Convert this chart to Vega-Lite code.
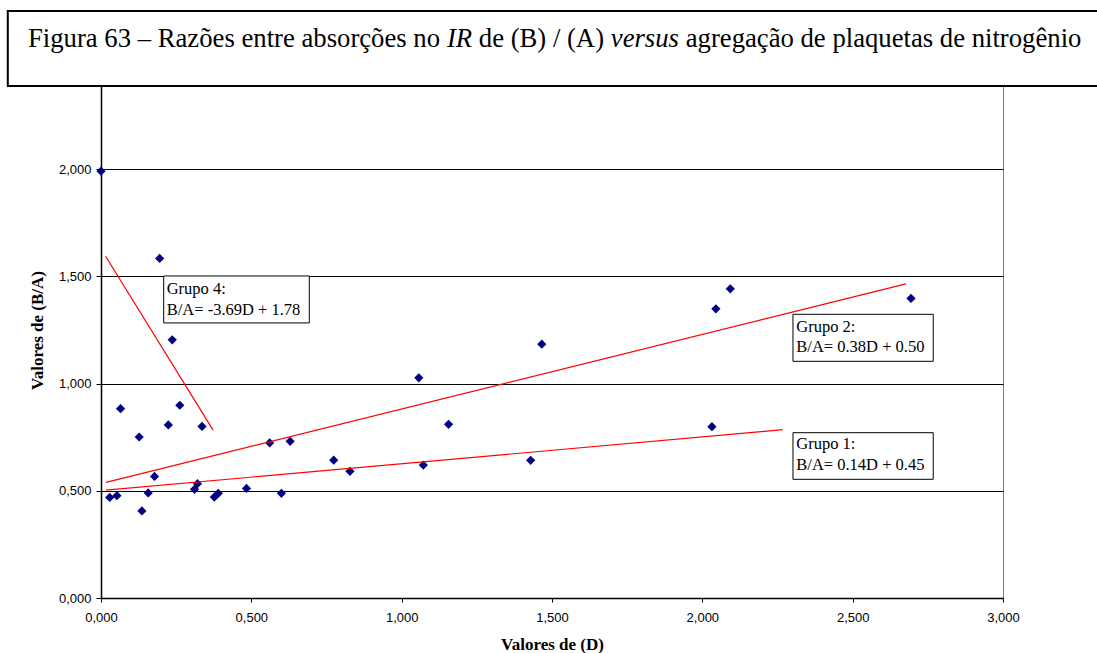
{
  "$schema": "https://vega.github.io/schema/vega-lite/v6.json",
  "autosize": {"type": "none"},
  "padding": {"left": 101, "top": 62, "right": 95, "bottom": 55},
  "width": 902,
  "height": 536,
  "background": "white",
  "config": {
    "view": {"stroke": "#808080", "strokeWidth": 1},
    "axis": {"zindex": 0}
  },
  "datasets": {
    "pts": [
      {"D": 0.000, "BA": 1.991},
      {"D": 0.029, "BA": 0.469},
      {"D": 0.053, "BA": 0.477},
      {"D": 0.065, "BA": 0.883},
      {"D": 0.127, "BA": 0.751},
      {"D": 0.136, "BA": 0.406},
      {"D": 0.157, "BA": 0.490},
      {"D": 0.178, "BA": 0.567},
      {"D": 0.195, "BA": 1.584},
      {"D": 0.224, "BA": 0.807},
      {"D": 0.237, "BA": 1.204},
      {"D": 0.262, "BA": 0.899},
      {"D": 0.311, "BA": 0.507},
      {"D": 0.321, "BA": 0.533},
      {"D": 0.336, "BA": 0.800},
      {"D": 0.377, "BA": 0.471},
      {"D": 0.390, "BA": 0.488},
      {"D": 0.484, "BA": 0.511},
      {"D": 0.561, "BA": 0.724},
      {"D": 0.600, "BA": 0.488},
      {"D": 0.629, "BA": 0.731},
      {"D": 0.774, "BA": 0.643},
      {"D": 0.828, "BA": 0.591},
      {"D": 1.057, "BA": 1.027},
      {"D": 1.072, "BA": 0.620},
      {"D": 1.156, "BA": 0.810},
      {"D": 1.429, "BA": 0.642},
      {"D": 1.466, "BA": 1.184},
      {"D": 2.032, "BA": 0.799},
      {"D": 2.045, "BA": 1.349},
      {"D": 2.093, "BA": 1.442},
      {"D": 2.694, "BA": 1.397}
    ],
    "trend": [
      {"grupo": "Grupo 4", "D1": 0.0153, "BA1": 1.594, "D2": 0.3728, "BA2": 0.783},
      {"grupo": "Grupo 2", "D1": 0.0166, "BA1": 0.539, "D2": 2.677, "BA2": 1.465},
      {"grupo": "Grupo 1", "D1": 0.0166, "BA1": 0.503, "D2": 2.267, "BA2": 0.785}
    ],
    "boxes": [
      {"grupo": "Grupo 4", "D1": 0.2085, "D2": 0.6928, "BA1": 1.502, "BA2": 1.283},
      {"grupo": "Grupo 2", "D1": 2.3015, "D2": 2.768, "BA1": 1.3232, "BA2": 1.104},
      {"grupo": "Grupo 1", "D1": 2.3015, "D2": 2.768, "BA1": 0.771, "BA2": 0.5536}
    ],
    "labels": [
      {"D": 0.2185, "BA": 1.4435, "texto": "Grupo 4:"},
      {"D": 0.2185, "BA": 1.3456, "texto": "B/A= -3.69D + 1.78"},
      {"D": 2.3125, "BA": 1.2626, "texto": "Grupo 2:"},
      {"D": 2.3125, "BA": 1.1693, "texto": "B/A= 0.38D + 0.50"},
      {"D": 2.3125, "BA": 0.7183, "texto": "Grupo 1:"},
      {"D": 2.3125, "BA": 0.619, "texto": "B/A= 0.14D + 0.45"}
    ],
    "titlebox": [
      {"D1": -0.310, "D2": 3.34, "BA1": 2.738, "BA2": 2.388}
    ],
    "titulo_normal": [
      {"D": -0.2428, "BA": 2.571, "texto": "Figura 63 – Razões entre absorções no"},
      {"D": 1.2565, "BA": 2.571, "texto": "de (B) / (A)"},
      {"D": 1.9447, "BA": 2.571, "texto": "agregação de plaquetas de nitrogênio"}
    ],
    "titulo_italico": [
      {"D": 1.1504, "BA": 2.571, "texto": "IR"},
      {"D": 1.6955, "BA": 2.571, "texto": "versus"}
    ]
  },
  "layer": [
    {
      "data": {"name": "pts"},
      "mark": {"type": "point", "shape": "diamond", "filled": true, "color": "#000080", "size": 85, "opacity": 1},
      "encoding": {
        "x": {
          "field": "D", "type": "quantitative",
          "scale": {"domain": [0, 3], "nice": false, "zero": false},
          "axis": {
            "values": [0, 0.5, 1, 1.5, 2, 2.5, 3],
            "labelExpr": "replace(format(datum.value, '.3f'), '.', ',')",
            "labelFlush": false,
            "grid": false,
            "domainColor": "#000000",
            "domainWidth": 1.5,
            "tickColor": "#000000",
            "tickSize": 4,
            "labelFont": "Liberation Sans",
            "labelFontSize": 13,
            "labelColor": "#000000",
            "labelPadding": 9,
            "title": "Valores de (D)",
            "titleFont": "Liberation Serif",
            "titleFontSize": 17,
            "titleFontWeight": "bold",
            "titleColor": "#000000",
            "titlePadding": 12
          }
        },
        "y": {
          "field": "BA", "type": "quantitative",
          "scale": {"domain": [0, 2.5], "nice": false, "zero": false},
          "axis": {
            "values": [0, 0.5, 1, 1.5, 2, 2.5],
            "labelExpr": "replace(format(datum.value, '.3f'), '.', ',')",
            "labelFlush": false,
            "grid": true,
            "gridColor": "#000000",
            "gridWidth": 1,
            "domainColor": "#000000",
            "domainWidth": 1.5,
            "tickColor": "#000000",
            "tickSize": 5,
            "labelFont": "Liberation Sans",
            "labelFontSize": 13,
            "labelColor": "#000000",
            "labelPadding": 5,
            "title": "Valores de (B/A)",
            "titleFont": "Liberation Serif",
            "titleFontSize": 17,
            "titleFontWeight": "bold",
            "titleColor": "#000000",
            "titlePadding": 12
          }
        }
      }
    },
    {
      "data": {"name": "trend"},
      "mark": {"type": "rule", "color": "#FF0000", "strokeWidth": 1.2},
      "encoding": {
        "x": {"field": "D1", "type": "quantitative"},
        "y": {"field": "BA1", "type": "quantitative"},
        "x2": {"field": "D2"},
        "y2": {"field": "BA2"}
      }
    },
    {
      "data": {"name": "boxes"},
      "mark": {"type": "rect", "fill": "white", "stroke": "#000000", "strokeWidth": 1},
      "encoding": {
        "x": {"field": "D1", "type": "quantitative"},
        "x2": {"field": "D2"},
        "y": {"field": "BA1", "type": "quantitative"},
        "y2": {"field": "BA2"}
      }
    },
    {
      "data": {"name": "labels"},
      "mark": {"type": "text", "align": "left", "baseline": "middle", "font": "Liberation Serif", "fontSize": 16.5, "color": "#000000"},
      "encoding": {
        "x": {"field": "D", "type": "quantitative"},
        "y": {"field": "BA", "type": "quantitative"},
        "text": {"field": "texto"}
      }
    },
    {
      "data": {"name": "titlebox"},
      "mark": {"type": "rect", "fill": "white", "stroke": "#000000", "strokeWidth": 2, "clip": false},
      "encoding": {
        "x": {"field": "D1", "type": "quantitative"},
        "x2": {"field": "D2"},
        "y": {"field": "BA1", "type": "quantitative"},
        "y2": {"field": "BA2"}
      }
    },
    {
      "data": {"name": "titulo_normal"},
      "mark": {"type": "text", "align": "left", "baseline": "alphabetic", "font": "Liberation Serif", "fontSize": 26.7, "color": "#000000"},
      "encoding": {
        "x": {"field": "D", "type": "quantitative"},
        "y": {"field": "BA", "type": "quantitative"},
        "text": {"field": "texto"}
      }
    },
    {
      "data": {"name": "titulo_italico"},
      "mark": {"type": "text", "align": "left", "baseline": "alphabetic", "font": "Liberation Serif", "fontSize": 26.7, "fontStyle": "italic", "color": "#000000"},
      "encoding": {
        "x": {"field": "D", "type": "quantitative"},
        "y": {"field": "BA", "type": "quantitative"},
        "text": {"field": "texto"}
      }
    }
  ]
}
